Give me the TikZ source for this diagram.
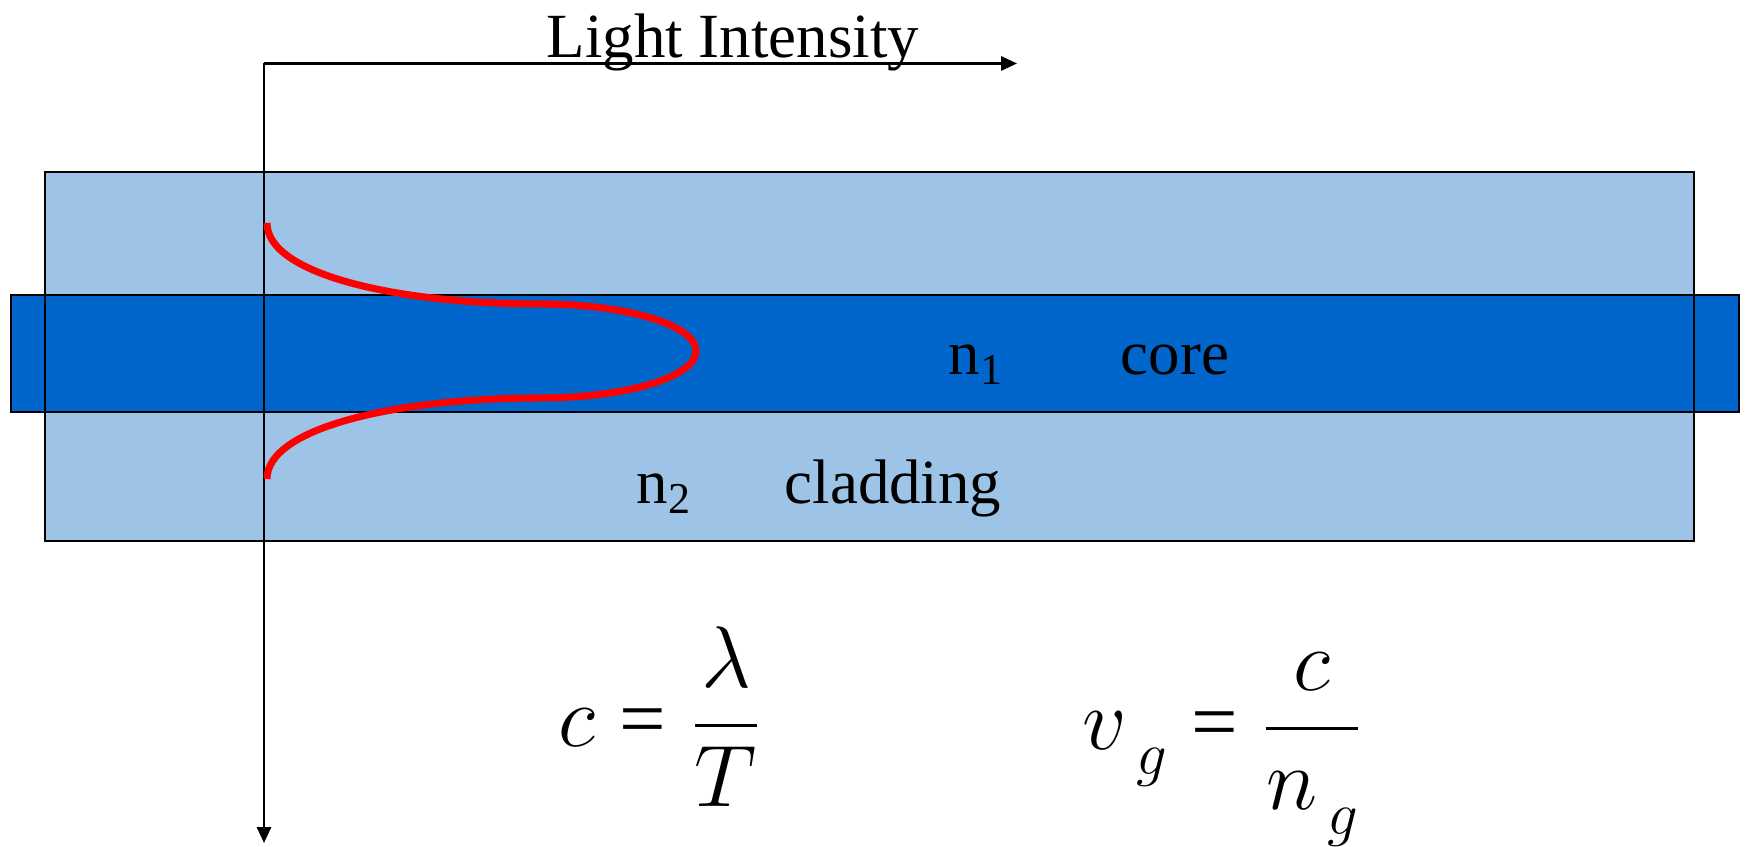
\documentclass[tikz,border=0pt]{standalone}
\usepackage{fontspec}
\setmainfont{Liberation Serif}
\usetikzlibrary{arrows.meta}
\definecolor{claddingblue}{HTML}{9DC3E6}
\definecolor{coreblue}{HTML}{0066CC}
\newcommand{\lowsub}[1]{\mkern2mu\raisebox{-7pt}{\fontsize{18}{18}\selectfont$#1$}}

\begin{document}
\begin{tikzpicture}[
    axis/.style={line width=0.7pt,-{Triangle[length=4.5pt,width=4pt]}},
    txt/.style={font=\fontsize{17.9}{20}\selectfont,inner sep=0pt,anchor=base west},
    formula/.style={font=\fontsize{23.5}{28}\selectfont,inner sep=0pt,anchor=base}]
    \useasboundingbox (0,0) rectangle (17.47,8.47);

    % 绘制包层
    \fill[claddingblue] (0.45,3.06) rectangle (16.94,6.75);
    % 绘制纤芯
    \draw[line width=0.7pt,fill=coreblue] (0.11,4.35) rectangle (17.39,5.52);
    \draw[line width=0.7pt] (0.45,3.06) rectangle (16.94,6.75);

    % 绘制坐标轴
    \coordinate (O) at (2.64,7.835);
    \coordinate (xend) at (10.17,7.835);
    \coordinate (yend) at (2.64,0.04);
    \draw[axis] (O) -- (xend);
    \draw[axis] (O) -- (yend);
    \node[txt,anchor=base] (intensity) at (7.33,7.89) {Light Intensity};

    % 绘制光强分布
    \draw[red,line width=2pt] (2.67,6.24) .. controls (2.67,5.72) and (4.00,5.43) .. (5.40,5.43)
        arc[start angle=90,end angle=-90,x radius=1.56,y radius=0.47]
        .. controls (4.00,4.49) and (2.67,4.20) .. (2.67,3.68);

    % 标注折射率
    \node[txt] (n1) at (9.48,4.72) {n\textsubscript{1}};
    \node[txt] (core) at (11.20,4.72) {core};
    \node[txt] (n2) at (6.36,3.43) {n\textsubscript{2}};
    \node[txt] (cladding) at (7.84,3.43) {cladding};

    % 公式
    \node[formula] (speed) at (6.60,1.00)
        {$\displaystyle c\mathrel{\textup{=}}{\lambda\above 0.9pt T}$};
    \node[formula] (group) at (12.22,0.97)
        {$\displaystyle v\lowsub{g}\mathrel{\textup{=}}{c\above 0.9pt n\lowsub{g}}$};
\end{tikzpicture}
\end{document}
